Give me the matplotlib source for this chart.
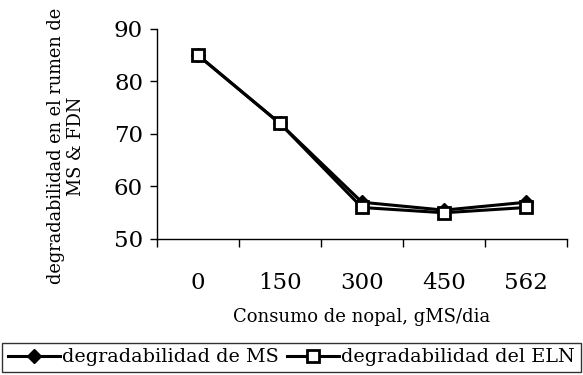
import matplotlib
matplotlib.use("Agg")
import matplotlib.pyplot as plt

categories = ["0", "150", "300", "450", "562"]
ms_values = [85, 72, 57, 55.5, 57]
eln_values = [85, 72, 56, 55, 56]

plt.rcParams['font.family'] = ['DejaVu Serif']

fig = plt.figure(figsize=(5.83, 3.75), dpi=100)
ax = fig.add_axes([157/583, 1-239/375, 410/583, 210/375])

x = list(range(len(categories)))
ax.plot(x, ms_values, color='black', lw=2.2, marker='D', ms=7, mfc='black', mec='black',
        label='degradabilidad de MS', clip_on=False, zorder=3)
ax.plot(x, eln_values, color='black', lw=2.2, marker='s', ms=9, mfc='white', mec='black', mew=2,
        label='degradabilidad del ELN', clip_on=False, zorder=4)

ax.set_xlim(-0.5, 4.5)
ax.set_ylim(50, 90)
ax.set_yticks([50, 60, 70, 80, 90])
ax.set_xticks([i - 0.5 for i in range(len(categories) + 1)])
ax.set_xticklabels([])
ax.set_xticks(x, minor=True)
ax.set_xticklabels(categories, minor=True)
ax.tick_params(axis='x', which='minor', length=0, pad=24, labelsize=16.5)
ax.tick_params(axis='x', which='major', direction='out', length=6, width=1)
ax.tick_params(axis='y', direction='out', length=5, width=1, labelsize=16.5, pad=5)

for s in ['top', 'right']:
    ax.spines[s].set_visible(False)
for s in ['left', 'bottom']:
    ax.spines[s].set_linewidth(1)

ax.set_xlabel('Consumo de nopal, gMS/dia', fontsize=13, labelpad=10)
fig.text(66/583, 1-146/375, 'degradabilidad en el rumen de\nMS & FDN', rotation=90,
         ha='center', va='center', fontsize=12.8, linespacing=1.1)

leg = fig.legend(loc='lower center', bbox_to_anchor=(0.5, 0.0), ncol=2, fontsize=13.8,
                 frameon=True, fancybox=False, edgecolor='black', handlelength=2.7,
                 columnspacing=0.4, handletextpad=0.15, borderpad=0.3, borderaxespad=0.15)
leg.get_frame().set_linewidth(1)

fig.savefig('out.png', dpi=100)
